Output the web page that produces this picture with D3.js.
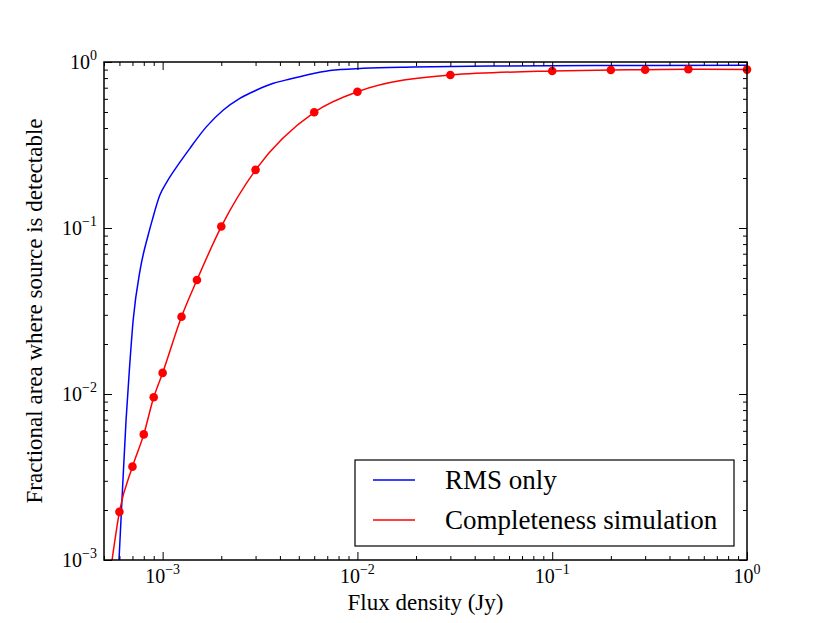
<!DOCTYPE html>
<html>
<head>
<meta charset="utf-8">
<script src="https://cdn.jsdelivr.net/npm/d3@7"></script>
<style>
  body { margin: 0; background: #fff; }
  text { font-family: "Liberation Serif", "Times New Roman", serif; fill: #000; }
</style>
</head>
<body>
<svg id="chart" width="830" height="623"></svg>
<script>
const WIDTH = 830;
const HEIGHT = 623;
const MARGIN = { top: 62, right: 83, bottom: 63, left: 104 };

// RMS-only curve
const rmsFlux = [5.97e-4, 6.22e-4, 6.49e-4, 6.75e-4, 7.06e-4, 7.66e-4, 8.43e-4, 8.85e-4,
                 9.68e-4, 1.05e-3, 1.23e-3, 1.38e-3, 1.68e-3, 2.05e-3, 2.49e-3, 3.04e-3,
                 3.70e-3, 4.51e-3, 5.50e-3, 7.23e-3, 1.07e-2, 1.93e-2, 4.8e-2, 0.1, 0.3, 1.0];
const rmsFrac = [1.0e-3, 2.64e-3, 6.97e-3, 0.0140, 0.0279, 0.0558, 0.0908, 0.112,
                 0.158, 0.189, 0.25, 0.302, 0.408, 0.514, 0.604, 0.678,
                 0.744, 0.790, 0.835, 0.888, 0.916, 0.933, 0.946, 0.950, 0.953, 0.955];

// completeness simulation points
const simFlux = [6e-4, 7e-4, 8e-4, 9e-4, 1e-3, 1.25e-3, 1.5e-3, 2e-3, 3e-3, 6e-3,
                 1e-2, 3e-2, 0.1, 0.2, 0.3, 0.5, 1.0];
const simFrac = [0.00195, 0.00365, 0.00571, 0.00955, 0.0134, 0.0292, 0.0486, 0.102, 0.224, 0.498,
                 0.662, 0.835, 0.883, 0.895, 0.899, 0.904, 0.900];
// where the red line leaves the bottom of the frame
const simLineStart = { flux: 5.5e-4, frac: 1.0e-3 };

const xMajor = [1e-3, 1e-2, 1e-1, 1];
const xMajorExp = ['\u22123', '\u22122', '\u22121', '0'];
const yMajor = [1e-3, 1e-2, 1e-1, 1];
const yMajorExp = ['\u22123', '\u22122', '\u22121', '0'];

const seriesNames = ['RMS only', 'Completeness simulation'];
const seriesColors = ['#0000ff', '#ff0000'];

const xLabel = 'Flux density (Jy)';
const yLabel = 'Fractional area where source is detectable';

const svg = d3.select('#chart');
const iw = WIDTH - MARGIN.left - MARGIN.right;
const ih = HEIGHT - MARGIN.top - MARGIN.bottom;

const x = d3.scaleLog().domain([5e-4, 1]).range([0, iw]);
const y = d3.scaleLog().domain([1e-3, 1]).range([ih, 0]);

const g = svg.append('g').attr('transform', `translate(${MARGIN.left},${MARGIN.top})`);

g.append('clipPath').attr('id', 'plot-clip')
  .append('rect').attr('width', iw).attr('height', ih);

// curves
const plot = g.append('g').attr('clip-path', 'url(#plot-clip)');

const line = d3.line()
  .x((d) => x(d[0]))
  .y((d) => y(d[1]))
  .curve(d3.curveMonotoneX);

plot.append('path')
  .datum(rmsFlux.map((f, i) => [f, rmsFrac[i]]))
  .attr('fill', 'none')
  .attr('stroke', seriesColors[0])
  .attr('stroke-width', 1.5)
  .attr('d', line);

const simPts = simFlux.map((f, i) => [f, simFrac[i]]);
plot.append('path')
  .datum([[simLineStart.flux, simLineStart.frac], ...simPts])
  .attr('fill', 'none')
  .attr('stroke', seriesColors[1])
  .attr('stroke-width', 1.5)
  .attr('d', line);

// markers are not clipped (last one sits on the right spine)
g.append('g').selectAll('circle')
  .data(simPts)
  .enter().append('circle')
  .attr('cx', (d) => x(d[0]))
  .attr('cy', (d) => y(d[1]))
  .attr('r', 4.3)
  .attr('fill', seriesColors[1]);

// ticks, inward on all four sides
const xMinor = x.ticks().filter((v) => !xMajor.some((m) => Math.abs(m - v) / m < 1e-6));
const yMinor = y.ticks().filter((v) => !yMajor.some((m) => Math.abs(m - v) / m < 1e-6));

function tickGroup(axis, transform) {
  const a = g.append('g').attr('transform', transform).call(axis);
  a.select('.domain').remove();
  a.selectAll('line').attr('stroke', '#000').attr('stroke-width', 1);
  a.selectAll('text').remove();
}

tickGroup(d3.axisBottom(x).tickValues(xMajor).tickSize(-8), `translate(0,${ih})`);
tickGroup(d3.axisBottom(x).tickValues(xMinor).tickSize(-4), `translate(0,${ih})`);
tickGroup(d3.axisTop(x).tickValues(xMajor).tickSize(-8), 'translate(0,0)');
tickGroup(d3.axisTop(x).tickValues(xMinor).tickSize(-4), 'translate(0,0)');
tickGroup(d3.axisLeft(y).tickValues(yMajor).tickSize(-8), 'translate(0,0)');
tickGroup(d3.axisLeft(y).tickValues(yMinor).tickSize(-4), 'translate(0,0)');
tickGroup(d3.axisRight(y).tickValues(yMajor).tickSize(-8), `translate(${iw},0)`);
tickGroup(d3.axisRight(y).tickValues(yMinor).tickSize(-4), `translate(${iw},0)`);

// frame
g.append('rect')
  .attr('width', iw).attr('height', ih)
  .attr('fill', 'none').attr('stroke', '#000').attr('stroke-width', 1.5);

// tick labels as 10^n
function powerLabel(sel, exp) {
  sel.append('tspan').text('10');
  sel.append('tspan').attr('font-size', 14).attr('dy', -9).text(exp);
}

xMajor.forEach((v, i) => {
  const t = g.append('text')
    .attr('x', x(v)).attr('y', ih + 23)
    .attr('text-anchor', 'middle')
    .attr('font-size', 20);
  powerLabel(t, xMajorExp[i]);
});

yMajor.forEach((v, i) => {
  const t = g.append('text')
    .attr('x', -7).attr('y', y(v) + 7)
    .attr('text-anchor', 'end')
    .attr('font-size', 20);
  powerLabel(t, yMajorExp[i]);
});

// axis titles
svg.append('text')
  .attr('x', MARGIN.left + iw / 2).attr('y', 610)
  .attr('text-anchor', 'middle')
  .attr('font-size', 23)
  .text(xLabel);

svg.append('text')
  .attr('transform', `translate(42,${MARGIN.top + ih / 2}) rotate(-90)`)
  .attr('text-anchor', 'middle')
  .attr('font-size', 23)
  .text(yLabel);

// legend
const legend = svg.append('g').attr('transform', 'translate(355,460)');
legend.append('rect')
  .attr('width', 379).attr('height', 86)
  .attr('fill', '#fff').attr('stroke', '#000').attr('stroke-width', 1.2);

seriesNames.forEach((name, i) => {
  const row = legend.append('g').attr('transform', `translate(0,${20 + i * 40})`);
  row.append('line')
    .attr('x1', 18).attr('x2', 60)
    .attr('stroke', seriesColors[i]).attr('stroke-width', 1.5);
  row.append('text')
    .attr('x', 90).attr('y', 9)
    .attr('font-size', 27)
    .text(name);
});
</script>
</body>
</html>
